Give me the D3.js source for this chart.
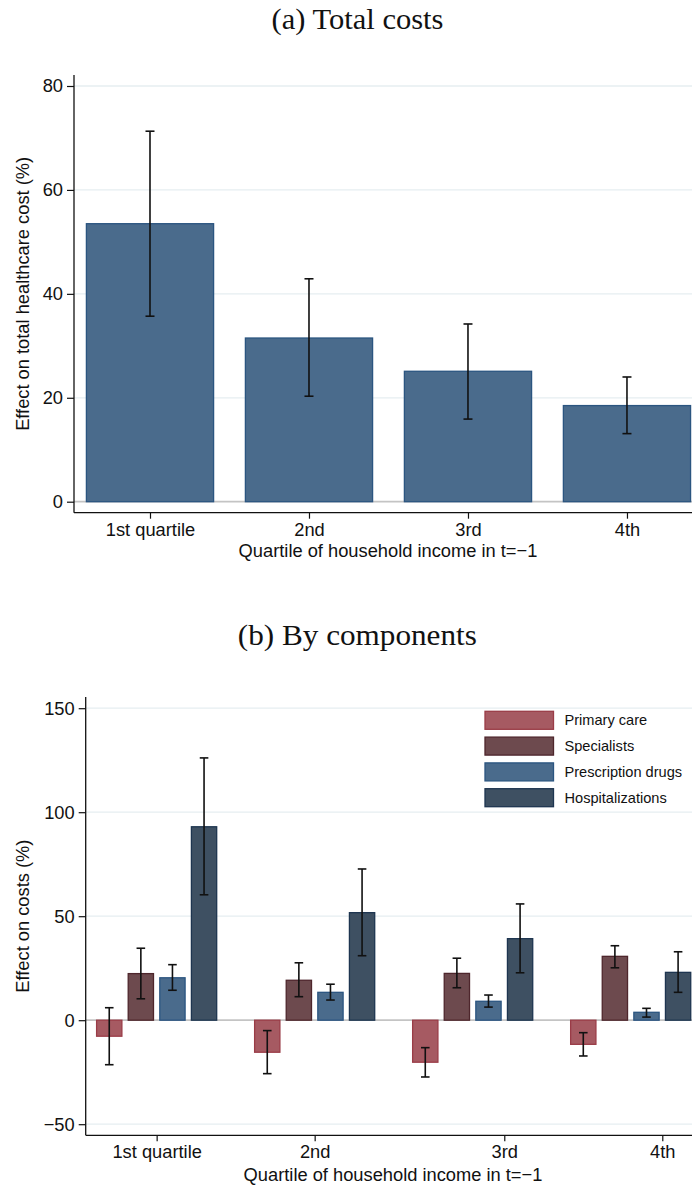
<!DOCTYPE html>
<html>
<head>
<meta charset="utf-8">
<script src="https://cdn.jsdelivr.net/npm/d3@7"></script>
<style>
  html, body { margin: 0; padding: 0; background: #fff; }
  svg { display: block; }
  text { font-family: "Liberation Sans", Arial, Helvetica, sans-serif; fill: #111; }
  .ttl { font-family: "Liberation Serif", "DejaVu Serif", serif; }
</style>
</head>
<body>
<script>
// ---------- Data ----------
const quartiles = ["1st quartile", "2nd", "3rd", "4th"];

// Panel (a): total costs
const totalEffect = [53.5, 31.5, 25.1, 18.5];
const totalLow    = [35.7, 20.3, 15.9, 13.1];
const totalHigh   = [71.3, 42.9, 34.2, 24.0];
const ticksA = [0, 20, 40, 60, 80];

// Panel (b): by components
const components = ["Primary care", "Specialists", "Prescription drugs", "Hospitalizations"];
const primaryCare     = [-7.7, -15.4, -20.2, -11.6];
const primaryCareLow  = [-21.4, -25.7, -27.3, -17.2];
const primaryCareHigh = [6.0, -5.0, -13.2, -6.0];
const specialists     = [22.4, 19.2, 22.5, 30.7];
const specialistsLow  = [10.3, 11.3, 15.6, 25.2];
const specialistsHigh = [34.6, 27.6, 29.8, 35.8];
const drugs           = [20.4, 13.4, 9.1, 3.8];
const drugsLow        = [14.4, 9.7, 6.3, 1.5];
const drugsHigh       = [26.7, 17.3, 12.1, 5.7];
const hospital        = [93.0, 51.7, 39.2, 23.0];
const hospitalLow     = [60.3, 31.0, 22.8, 13.4];
const hospitalHigh    = [126.1, 72.7, 55.9, 32.9];
const ticksB = [-50, 0, 50, 100, 150];
const xTickPosB = [1, 2, 3.2, 4.2]; // label positions as in the original figure

// ---------- Styles ----------
const fills   = ["#a65a62", "#6d4a4e", "#4a6b8c", "#3e5062"];
const strokes = ["#9a3c47", "#4e262c", "#2b5580", "#1e3550"];
const gridCol = "#e6eef1";
const zeroCol = "#c4c4c4";
const FS = 18.3;

const W = 692, H = 1187;
const svg = d3.select("body").append("svg").attr("width", W).attr("height", H);

function drawPanel(cfg) {
  const g = svg.append("g");
  const x = d3.scaleLinear().domain(cfg.xDomain).range([cfg.left, W]);
  const y = d3.scaleLinear().domain(cfg.yDomain).range([cfg.bottom, cfg.top]);

  // title
  g.append("text").attr("class", "ttl")
    .attr("x", cfg.titleX).attr("y", cfg.titleY)
    .attr("text-anchor", "middle").attr("font-size", 28.5)
    .attr("textLength", cfg.titleLen).attr("lengthAdjust", "spacingAndGlyphs")
    .text(cfg.title);

  // gridlines
  g.append("g").selectAll("line").data(cfg.yTicks.filter(t => t !== 0)).join("line")
    .attr("x1", cfg.left).attr("x2", W)
    .attr("y1", d => y(d)).attr("y2", d => y(d))
    .attr("stroke", gridCol).attr("stroke-width", 1.3);
  // zero line
  g.append("line").attr("x1", cfg.left).attr("x2", W)
    .attr("y1", y(0)).attr("y2", y(0))
    .attr("stroke", zeroCol).attr("stroke-width", 1.8);

  // y axis
  const ya = g.append("g").attr("transform", `translate(${cfg.left},0)`)
    .call(d3.axisLeft(y).tickValues(cfg.yTicks).tickSize(7).tickPadding(4)
      .tickFormat(d => d < 0 ? "\u2212" + Math.abs(d) : d));
  ya.select(".domain").remove();
  ya.selectAll(".tick line").attr("stroke", "#111").attr("stroke-width", 1.2);
  ya.selectAll(".tick text").attr("font-size", FS).attr("font-family", "Liberation Sans, Arial, sans-serif").attr("fill", "#111");
  g.append("line").attr("x1", cfg.left).attr("x2", cfg.left)
    .attr("y1", cfg.axisTop).attr("y2", cfg.axisBottom)
    .attr("stroke", "#111").attr("stroke-width", 1.3);

  // x axis
  const xa = g.append("g").attr("transform", `translate(0,${cfg.axisBottom})`)
    .call(d3.axisBottom(x).tickValues(cfg.xTicks).tickSize(6).tickPadding(4)
      .tickFormat((d, i) => quartiles[i]));
  xa.select(".domain").remove();
  xa.selectAll(".tick line").attr("stroke", "#111").attr("stroke-width", 1.2);
  xa.selectAll(".tick text").attr("font-size", FS).attr("font-family", "Liberation Sans, Arial, sans-serif").attr("fill", "#111");
  g.append("line").attr("x1", cfg.left).attr("x2", W)
    .attr("y1", cfg.axisBottom).attr("y2", cfg.axisBottom)
    .attr("stroke", "#111").attr("stroke-width", 1.3);

  // axis titles
  g.append("text").attr("x", cfg.xTitleX).attr("y", cfg.xTitleY)
    .attr("text-anchor", "middle").attr("font-size", FS).text(cfg.xTitle);
  g.append("text")
    .attr("transform", `translate(${cfg.yTitleX},${(cfg.axisTop + cfg.axisBottom) / 2}) rotate(-90)`)
    .attr("text-anchor", "middle").attr("font-size", FS).text(cfg.yTitle);

  return { g, x, y };
}

function errorBars(g, x, y, data, capHalf) {
  const eb = g.append("g").attr("stroke", "#111").attr("stroke-width", 1.6);
  eb.selectAll(".v").data(data).join("line")
    .attr("x1", d => x(d.pos)).attr("x2", d => x(d.pos))
    .attr("y1", d => y(d.lo)).attr("y2", d => y(d.hi));
  eb.selectAll(".t").data(data).join("line")
    .attr("x1", d => x(d.pos) - capHalf).attr("x2", d => x(d.pos) + capHalf)
    .attr("y1", d => y(d.hi)).attr("y2", d => y(d.hi));
  eb.selectAll(".b").data(data).join("line")
    .attr("x1", d => x(d.pos) - capHalf).attr("x2", d => x(d.pos) + capHalf)
    .attr("y1", d => y(d.lo)).attr("y2", d => y(d.lo));
}

// ---------- Panel (a) ----------
{
  const { g, x, y } = drawPanel({
    title: "(a) Total costs", titleX: 357.5, titleY: 29, titleLen: 172,
    left: 74, top: 86, bottom: 501.7, axisTop: 75, axisBottom: 512.7,
    xDomain: [0.522, 4.409], yDomain: [0, 80],
    yTicks: ticksA, xTicks: [1, 2, 3, 4],
    xTitle: "Quartile of household income in t=\u22121", xTitleX: 388, xTitleY: 556.5,
    yTitle: "Effect on total healthcare cost (%)", yTitleX: 29
  });
  const data = quartiles.map((q, i) => ({ pos: i + 1, v: totalEffect[i], lo: totalLow[i], hi: totalHigh[i] }));
  const bw = 0.8;
  g.append("g").selectAll("rect").data(data).join("rect")
    .attr("x", d => x(d.pos - bw / 2)).attr("width", d => x(d.pos + bw / 2) - x(d.pos - bw / 2))
    .attr("y", d => y(Math.max(0, d.v))).attr("height", d => Math.abs(y(d.v) - y(0)))
    .attr("fill", fills[2]).attr("stroke", strokes[2]).attr("stroke-width", 1.3);
  errorBars(g, x, y, data, 4.5);
}

// ---------- Panel (b) ----------
{
  const { g, x, y } = drawPanel({
    title: "(b) By components", titleX: 357.3, titleY: 645, titleLen: 239,
    left: 85.7, top: 708.2, bottom: 1124.2, axisTop: 697, axisBottom: 1135.3,
    xDomain: [0.551, 4.388], yDomain: [-50, 150],
    yTicks: ticksB, xTicks: xTickPosB,
    xTitle: "Quartile of household income in t=\u22121", xTitleX: 393, xTitleY: 1181,
    yTitle: "Effect on costs (%)", yTitleX: 29
  });
  const series = [
    [primaryCare, primaryCareLow, primaryCareHigh],
    [specialists, specialistsLow, specialistsHigh],
    [drugs, drugsLow, drugsHigh],
    [hospital, hospitalLow, hospitalHigh]
  ];
  const offsets = [-0.3, -0.1, 0.1, 0.3];
  const bw = 0.16;
  const data = [];
  series.forEach((s, k) => {
    quartiles.forEach((q, i) => {
      data.push({ k, pos: i + 1 + offsets[k], v: s[0][i], lo: s[1][i], hi: s[2][i] });
    });
  });
  g.append("g").selectAll("rect").data(data).join("rect")
    .attr("x", d => x(d.pos - bw / 2)).attr("width", d => x(d.pos + bw / 2) - x(d.pos - bw / 2))
    .attr("y", d => y(Math.max(0, d.v))).attr("height", d => Math.abs(y(d.v) - y(0)))
    .attr("fill", d => fills[d.k]).attr("stroke", d => strokes[d.k]).attr("stroke-width", 1.3);
  errorBars(g, x, y, data, 4.3);

  // legend
  const lg = g.append("g").attr("transform", "translate(485,711.3)");
  const items = lg.selectAll("g").data(components).join("g")
    .attr("transform", (d, i) => `translate(0,${i * 25.8})`);
  items.append("rect").attr("width", 68.5).attr("height", 18)
    .attr("fill", (d, i) => fills[i]).attr("stroke", (d, i) => strokes[i]).attr("stroke-width", 1.3);
  items.append("text").attr("x", 79.5).attr("y", 14.2).attr("font-size", 14.6).text(d => d);
}
</script>
</body>
</html>
